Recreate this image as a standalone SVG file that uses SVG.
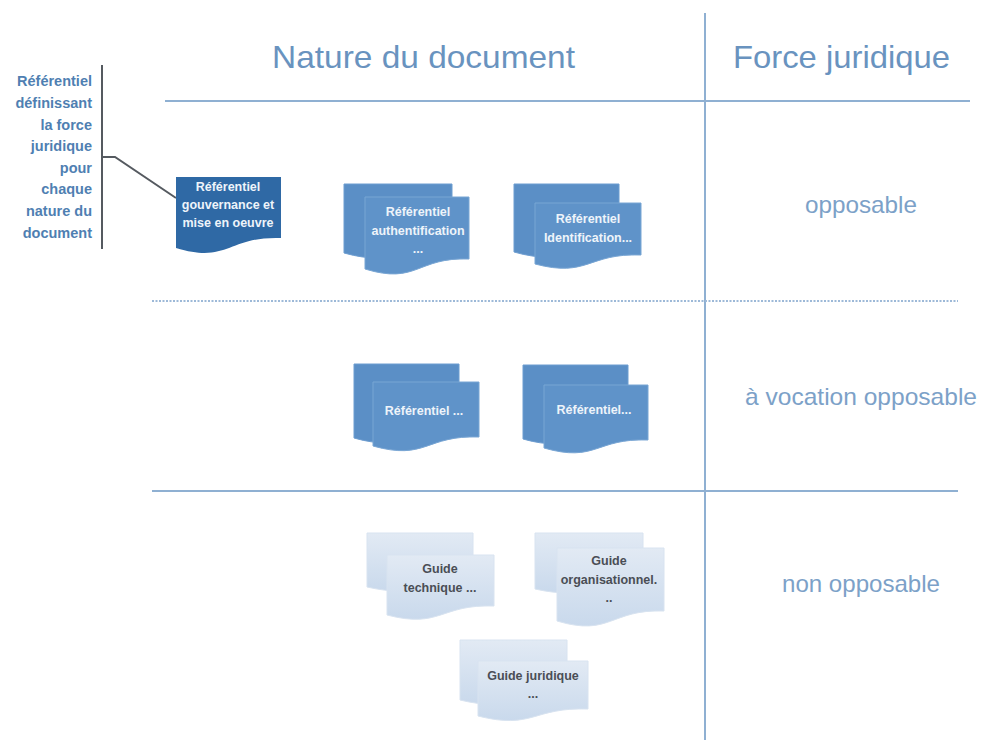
<svg xmlns="http://www.w3.org/2000/svg" width="981" height="740" viewBox="0 0 981 740">
<defs>
<linearGradient id="lg" x1="0" y1="0" x2="0" y2="1">
<stop offset="0" stop-color="#e2eaf4"/>
<stop offset="1" stop-color="#c9d9ec"/>
</linearGradient>
<style>
.grid{stroke:#8fb0d2;stroke-width:2;fill:none}
.dot{stroke:#9db9d8;stroke-width:2;stroke-dasharray:2 1.5;fill:none}
.hdr{font-family:"Liberation Sans",Arial,sans-serif;font-size:32px;fill:#6993bf}
.lbl{font-family:"Liberation Sans",Arial,sans-serif;font-size:24px;fill:#7ca1c8}
.side{font-family:"Liberation Sans",Arial,sans-serif;font-size:14.5px;font-weight:bold;fill:#4f7fb2;text-anchor:end}
.mid{fill:#5b8fc6;stroke:#6d9dd0;stroke-width:1}
.midf{fill:#5f93c9;stroke:#79a6d4;stroke-width:1}
.dark{fill:#2f69a5}
.lite{fill:url(#lg);stroke:#d8e3f0;stroke-width:1}
.wt{font-family:"Liberation Sans",Arial,sans-serif;font-size:12.5px;font-weight:bold;fill:#eef4fa;text-anchor:middle}
.gt{font-family:"Liberation Sans",Arial,sans-serif;font-size:12.5px;font-weight:bold;fill:#4a4e55;text-anchor:middle}
.conn{stroke:#555a60;stroke-width:2;fill:none}
</style>
</defs>
<rect width="981" height="740" fill="#ffffff"/>

<g id="grid">
<line class="grid" x1="705" y1="13" x2="705" y2="740"/>
<line class="grid" x1="165" y1="101" x2="970" y2="101"/>
<line class="dot" x1="152" y1="301" x2="958" y2="301"/>
<line class="grid" x1="152" y1="491" x2="958" y2="491"/>
</g>

<g id="headers">
<text class="hdr" x="272" y="68" textLength="303" lengthAdjust="spacingAndGlyphs">Nature du document</text>
<text class="hdr" x="733" y="68" textLength="217" lengthAdjust="spacingAndGlyphs">Force juridique</text>
</g>

<g id="labels">
<text class="lbl" x="805" y="213" textLength="112" lengthAdjust="spacingAndGlyphs">opposable</text>
<text class="lbl" x="745" y="405" textLength="232" lengthAdjust="spacingAndGlyphs">à vocation opposable</text>
<text class="lbl" x="782" y="592" textLength="158" lengthAdjust="spacingAndGlyphs">non opposable</text>
</g>

<g id="side-note">
<text class="side" x="92" y="86">Référentiel</text>
<text class="side" x="92" y="108">définissant</text>
<text class="side" x="92" y="130">la force</text>
<text class="side" x="92" y="151">juridique</text>
<text class="side" x="92" y="173">pour</text>
<text class="side" x="92" y="194">chaque</text>
<text class="side" x="92" y="216">nature du</text>
<text class="side" x="92" y="238">document</text>
<line class="conn" x1="102" y1="65" x2="102" y2="249"/>
</g>

<g id="connectors">
<polyline class="conn" points="102,157 115,157 176,198"/>
</g>

<g id="doc-gouvernance">
<path class="dark" d="M176,177 H281 V238 C228.5,236 228.5,264 176,248 Z"/>
<text class="wt" x="228" y="191">Référentiel</text>
<text class="wt" x="228" y="209">gouvernance et</text>
<text class="wt" x="228" y="227">mise en oeuvre</text>
</g>

<g id="doc-authentification">
<path class="mid" d="M344,184 H452 V243 C398,243 398,268 344,253 Z"/>
<path class="midf" d="M365,197 H469 V259 C417,257 417,285 365,269 Z"/>
<text class="wt" x="418" y="216">Référentiel</text>
<text class="wt" x="418" y="235">authentification</text>
<text class="wt" x="418" y="253">...</text>
</g>

<g id="doc-identification">
<path class="mid" d="M514,184 H619 V242 C566.5,242 566.5,267 514,252 Z"/>
<path class="midf" d="M535,203 H641 V255 C588,253 588,278 535,264 Z"/>
<text class="wt" x="588" y="223">Référentiel</text>
<text class="wt" x="588" y="242">Identification...</text>
</g>

<g id="doc-referentiel-1">
<path class="mid" d="M354,364 H459 V427 C406.5,427 406.5,453 354,438 Z"/>
<path class="midf" d="M373,382 H479 V437 C426,435 426,461 373,446 Z"/>
<text class="wt" x="424" y="415">Référentiel ...</text>
</g>

<g id="doc-referentiel-2">
<path class="mid" d="M523,365 H628 V428 C575.5,428 575.5,454 523,439 Z"/>
<path class="midf" d="M544,385 H648 V440 C596,438 596,463 544,448 Z"/>
<text class="wt" x="594" y="414">Référentiel...</text>
</g>

<g id="doc-guide-technique">
<path class="lite" d="M367,533 H473 V580 C420,580 420,599 367,587 Z"/>
<path class="lite" d="M387,555 H494 V606 C440.5,604 440.5,629 387,615 Z"/>
<text class="gt" x="440" y="573">Guide</text>
<text class="gt" x="440" y="592">technique ...</text>
</g>

<g id="doc-guide-organisationnel">
<path class="lite" d="M535,533 H643 V581 C589,581 589,601 535,589 Z"/>
<path class="lite" d="M557,548 H664 V611 C610.5,609 610.5,637 557,621 Z"/>
<text class="gt" x="609" y="565">Guide</text>
<text class="gt" x="609" y="584">organisationnel.</text>
<text class="gt" x="609" y="602">..</text>
</g>

<g id="doc-guide-juridique">
<path class="lite" d="M460,640 H567 V691 C513.5,691 513.5,713 460,700 Z"/>
<path class="lite" d="M478,661 H588 V709 C533,707 533,730 478,716 Z"/>
<text class="gt" x="533" y="680">Guide juridique</text>
<text class="gt" x="533" y="698">...</text>
</g>
</svg>
